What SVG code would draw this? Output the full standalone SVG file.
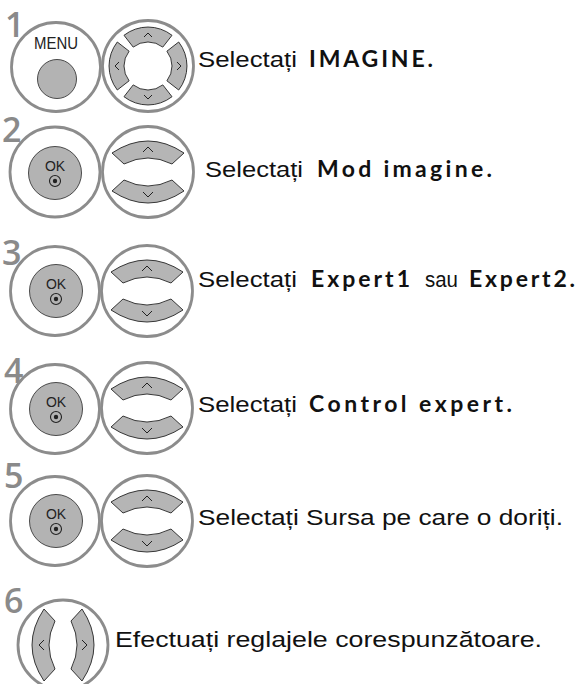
<svg xmlns="http://www.w3.org/2000/svg" width="582" height="684" viewBox="0 0 582 684">
<style>
.ring{fill:#fff;stroke:#8c8c8c;stroke-width:2.8}
.btn{fill:#b3b3b3;stroke:#4a4a4a;stroke-width:1}
.seg{fill:#b5b5b5;stroke:#222;stroke-width:0.9;stroke-linejoin:round}
.chev{fill:none;stroke:#222;stroke-width:1;stroke-linejoin:miter}
.num{font-family:"Open Sans","Liberation Sans",sans-serif;font-size:34px;font-weight:600;fill:#8a8a8a}
.txt{font-family:"Liberation Sans",Arial,sans-serif;font-size:22px;fill:#111}
.bld{font-family:Lato,"Open Sans",sans-serif;font-size:23px;font-weight:700;fill:#111}
.ok{font-family:"Liberation Sans",Arial,sans-serif;font-size:14px;fill:#222;text-anchor:middle}
</style>
<defs>
<g id="okbtn">
<circle class="btn" cx="0" cy="0" r="26.5"/>
<text class="ok" x="0" y="-2">OK</text>
<circle cx="0" cy="8" r="5.5" fill="none" stroke="#222" stroke-width="1.1"/>
<circle cx="0" cy="8" r="2.2" fill="#222"/>
</g>
<g id="updown">
<circle class="ring" cx="0" cy="0" r="45.5"/>
<path class="seg" d="M-36,-19 Q0,-43 36,-19 L24,-8 Q0,-20 -24,-8 Z"/>
<path class="seg" d="M-36,19 Q0,43 36,19 L24,8 Q0,20 -24,8 Z"/>
<path class="chev" d="M-5,-20 L0,-25 L5,-20"/>
<path class="chev" d="M-5,20 L0,25 L5,20"/>
</g>
</defs>

<g id="step1">
<text class="num" x="5" y="37">1</text>
<g id="menu">
<circle class="ring" cx="56" cy="67" r="44.5"/>
<text x="56" y="49" font-family="Liberation Sans,Arial,sans-serif" font-size="16" fill="#222" text-anchor="middle" textLength="44" lengthAdjust="spacingAndGlyphs">MENU</text>
<circle class="btn" cx="57" cy="79" r="19.5"/>
</g>
<g id="dpad" transform="translate(148,66)">
<circle class="ring" cx="0" cy="0" r="45.5"/>
<path class="seg" d="M-24,-30.7 A39,39 0 0 1 24,-30.7 L14.8,-18.9 A24,24 0 0 0 -14.8,-18.9 Z"/>
<path class="seg" transform="rotate(90)" d="M-24,-30.7 A39,39 0 0 1 24,-30.7 L14.8,-18.9 A24,24 0 0 0 -14.8,-18.9 Z"/>
<path class="seg" transform="rotate(180)" d="M-24,-30.7 A39,39 0 0 1 24,-30.7 L14.8,-18.9 A24,24 0 0 0 -14.8,-18.9 Z"/>
<path class="seg" transform="rotate(270)" d="M-24,-30.7 A39,39 0 0 1 24,-30.7 L14.8,-18.9 A24,24 0 0 0 -14.8,-18.9 Z"/>
<path class="chev" d="M-4,-29 L0,-33 L4,-29"/>
<path class="chev" d="M-4,29 L0,33 L4,29"/>
<path class="chev" d="M-29,-4 L-33,0 L-29,4"/>
<path class="chev" d="M29,-4 L33,0 L29,4"/>
</g>
<text class="txt" x="198" y="67" textLength="99" lengthAdjust="spacingAndGlyphs">Selectați</text>
<text class="bld" x="309" y="67" textLength="124">IMAGINE.</text>
</g>

<g id="step2">
<text class="num" x="2" y="142">2</text>
<circle class="ring" cx="55" cy="172" r="45"/>
<use href="#okbtn" x="55" y="173"/>
<use href="#updown" x="148" y="172"/>
<text class="txt" x="205" y="177" textLength="98" lengthAdjust="spacingAndGlyphs">Selectați</text>
<text class="bld" x="317" y="177" textLength="175">Mod imagine.</text>
</g>

<g id="step3">
<text class="num" x="2" y="265">3</text>
<circle class="ring" cx="55" cy="291" r="44.5"/>
<use href="#okbtn" x="56" y="291"/>
<use href="#updown" x="147" y="291"/>
<text class="txt" x="198" y="287" textLength="99" lengthAdjust="spacingAndGlyphs">Selectați</text>
<text class="bld" x="311" y="287" textLength="99">Expert1</text>
<text class="txt" x="425" y="287" textLength="33" lengthAdjust="spacingAndGlyphs">sau</text>
<text class="bld" x="469" y="287" textLength="106">Expert2.</text>
</g>

<g id="step4">
<text class="num" x="4" y="383">4</text>
<circle class="ring" cx="55" cy="409" r="44.5"/>
<use href="#okbtn" x="56" y="409"/>
<use href="#updown" x="147" y="408"/>
<text class="txt" x="198" y="412" textLength="99" lengthAdjust="spacingAndGlyphs">Selectați</text>
<text class="bld" x="309" y="412" textLength="203">Control expert.</text>
</g>

<g id="step5">
<text class="num" x="4" y="488">5</text>
<circle class="ring" cx="55" cy="521" r="44.5"/>
<use href="#okbtn" x="56" y="521"/>
<use href="#updown" x="147" y="521"/>
<text class="txt" x="198" y="525" textLength="365" lengthAdjust="spacingAndGlyphs">Selectați Sursa pe care o doriți.</text>
</g>

<g id="step6">
<text class="num" x="4" y="613">6</text>
<g transform="translate(63,645)">
<circle class="ring" cx="0" cy="0" r="45"/>
<path class="seg" d="M-19,-36 Q-43,0 -19,36 L-8,24 Q-20,0 -8,-24 Z"/>
<path class="seg" d="M19,-36 Q43,0 19,36 L8,24 Q20,0 8,-24 Z"/>
<path class="chev" d="M-19,-5 L-24,0 L-19,5"/>
<path class="chev" d="M19,-5 L24,0 L19,5"/>
</g>
<text class="txt" x="115" y="647" textLength="427" lengthAdjust="spacingAndGlyphs">Efectuați reglajele corespunzătoare.</text>
</g>
</svg>
